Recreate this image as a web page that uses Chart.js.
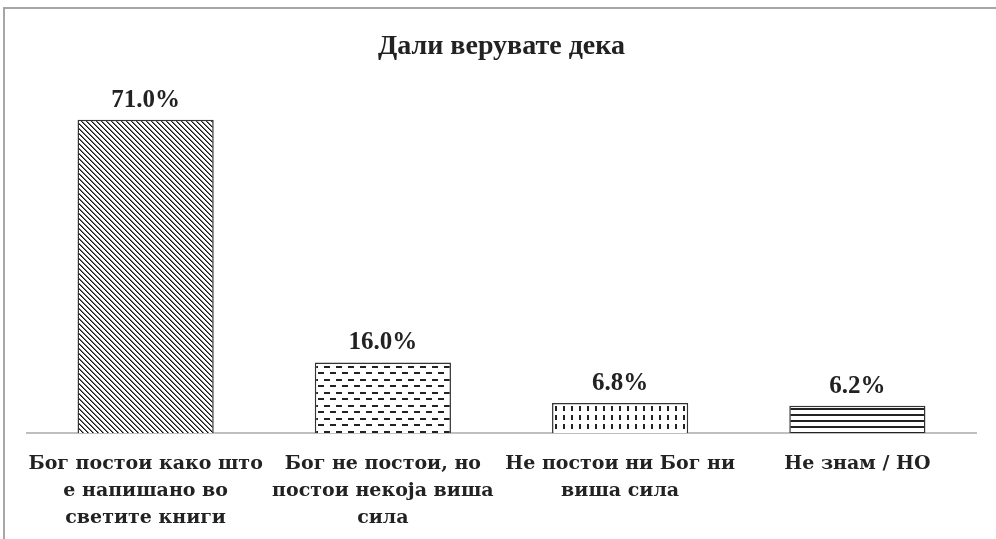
<!DOCTYPE html>
<html>
<head>
<meta charset="utf-8">
<script src="https://cdn.jsdelivr.net/npm/chart.js@4/dist/chart.umd.min.js"></script>
<style>
  html, body { margin: 0; padding: 0; background: #fff; }
  #wrap { position: relative; width: 996px; height: 539px; }
  #frame { position: absolute; left: 3px; top: 7px; right: -10px; bottom: -10px;
           border-left: 2px solid #a6a6a6; border-top: 2px solid #a6a6a6; }
  #c { position: absolute; left: 0; top: 0; }
</style>
</head>
<body>
<div id="wrap">
  <div id="frame"></div>
  <canvas id="c" width="996" height="539"></canvas>
</div>
<script>
// данни
const chartTitle = 'Дали верувате дека';
const categories = [
  ['Бог постои како што', 'е напишано во', 'светите книги'],
  ['Бог не постои, но', 'постои некоја виша', 'сила'],
  ['Не постои ни Бог ни', 'виша сила'],
  ['Не знам / НО']
];
const values = [71.0, 16.0, 6.8, 6.2];
const yMax = 80;

// шрафури за столбовите
function makePattern(w, h, draw) {
  const cv = document.createElement('canvas');
  cv.width = w;
  cv.height = h;
  const g = cv.getContext('2d');
  g.fillStyle = '#fff';
  g.fillRect(0, 0, w, h);
  draw(g);
  return g.createPattern(cv, 'repeat');
}

const ctx = document.getElementById('c').getContext('2d');

const patterns = [
  // густи дијагонални линии
  makePattern(5, 5, g => {
    for (let i = 0; i < 5; i++) {
      g.fillStyle = '#111';
      g.fillRect(i, i, 1, 1);
      g.fillStyle = '#777';
      g.fillRect((i + 1) % 5, i, 1, 1);
    }
  }),
  // хоризонтални цртички
  makePattern(12, 13, g => {
    g.fillStyle = '#222';
    g.fillRect(0, 2, 6, 2);
    g.fillRect(6, 8, 6, 2);
  }),
  // вертикални цртички
  makePattern(8, 9, g => {
    g.fillStyle = '#222';
    g.fillRect(3, 1, 2, 5);
  }),
  // хоризонтални линии
  makePattern(4, 6, g => {
    g.fillStyle = '#222';
    g.fillRect(0, 0, 4, 2);
  })
];

// етикети со вредности над столбовите
const valueLabels = {
  id: 'valueLabels',
  afterDatasetsDraw(chart) {
    const c = chart.ctx;
    const meta = chart.getDatasetMeta(0);
    c.save();
    c.font = 'bold 25px "Liberation Serif", "Times New Roman", serif';
    c.fillStyle = '#222';
    c.textAlign = 'center';
    c.textBaseline = 'alphabetic';
    meta.data.forEach((bar, i) => {
      c.fillText(values[i].toFixed(1) + '%', bar.x, bar.y - 13);
    });
    c.restore();
  }
};

new Chart(ctx, {
  type: 'bar',
  data: {
    labels: categories,
    datasets: [{
      data: values,
      backgroundColor: patterns,
      borderColor: '#333',
      borderWidth: 1.5,
      barPercentage: 0.574,
      categoryPercentage: 1
    }]
  },
  options: {
    responsive: false,
    animation: false,
    layout: { padding: { left: 27, right: 20, top: 0, bottom: -11 } },
    plugins: {
      legend: { display: false },
      tooltip: { enabled: false },
      title: {
        display: true,
        text: chartTitle,
        color: '#222',
        font: { family: '"Liberation Serif"', size: 28, weight: 'bold', lineHeight: 1.2 },
        padding: { top: 30, bottom: 16.4 }
      }
    },
    scales: {
      x: {
        grid: { display: false, drawTicks: false },
        border: { display: true, color: '#bfbfbf', width: 2 },
        ticks: {
          color: '#222',
          padding: 18,
          maxRotation: 0,
          autoSkip: false,
          font: { family: '"DejaVu Serif"', size: 19, weight: 'bold', lineHeight: 1.42 }
        }
      },
      y: {
        display: false,
        min: 0,
        max: yMax
      }
    }
  },
  plugins: [valueLabels]
});
</script>
</body>
</html>
